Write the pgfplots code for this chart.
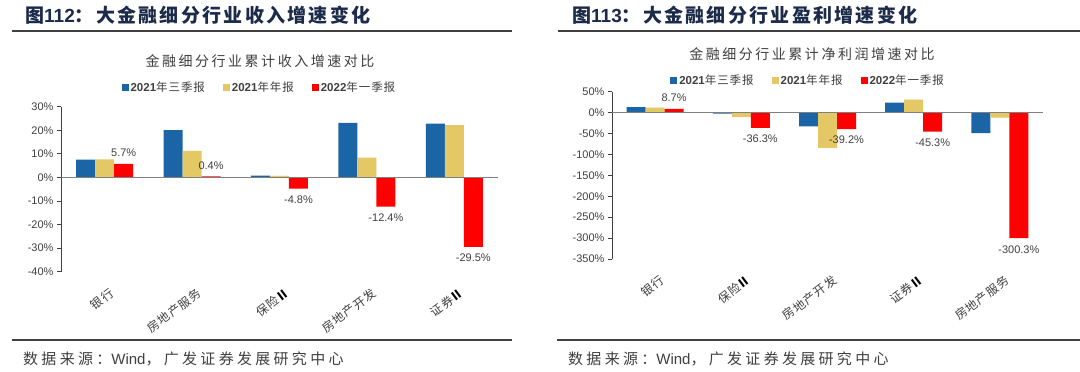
\documentclass[border=0pt]{standalone}
\usepackage{fontspec}
\setmainfont{Liberation Sans}
\newfontfamily\lat{Liberation Sans}
\newfontfamily\cjk{Noto Sans CJK SC}
\newfontfamily\cjkls[LetterSpace=8]{Noto Sans CJK SC}
\newfontfamily\cjksrc[LetterSpace=22]{Noto Sans CJK SC}
\newfontfamily\cjkm[LetterSpace=18]{Noto Sans CJK SC}
\newfontfamily\cjkt[LetterSpace=12]{Noto Sans CJK SC}
\usepackage{pgfplots}
\pgfplotsset{compat=1.18}
\definecolor{cblue}{HTML}{1B65A6}
\definecolor{cyel}{HTML}{E4C866}
\definecolor{cred}{HTML}{FF0000}
\definecolor{navy}{HTML}{1C2B4A}
\definecolor{txt}{HTML}{404040}
\definecolor{rule}{HTML}{404040}

\pgfplotsset{
 fin/.style={
  scale only axis, anchor=north west,
  xmin=-0.5, xmax=4.5, xtick={0,1,2,3,4},
  ybar=0pt, bar width=19pt,
  axis y line*=left, axis x line*=bottom,
  x axis line style={draw=none}, xtick style={draw=none},
  y axis line style={draw=txt,-, line width=0.8pt},
  ytick style={draw=txt, line width=0.8pt},
  tick align=outside, major tick length=4pt,
  /pgf/number format/assume math mode=true,
  yticklabel={\pgfmathprintnumber{\tick}\%},
  yticklabel style={font=\fontsize{11}{11}\selectfont, text=txt},
  xticklabel style={font=\cjkls\fontsize{12}{12}\selectfont, text=txt, rotate=37, anchor=north east, yshift=-8pt},
  legend columns=3,
  legend style={draw=none, fill=none, font=\fontsize{11.5}{11.5}\selectfont, text=txt,
    nodes={inner xsep=2pt},
    /tikz/every even column/.append style={column sep=16pt}},
  legend image code/.code={\fill[##1] (0pt,-3.5pt) rectangle (7pt,3.5pt);},
  clip=false,
 },
 lab/.style={nodes near coords={\pgfmathprintnumber[fixed,fixed zerofill,precision=1]{\pgfplotspointmeta}\%},
   every node near coord/.append style={font=\fontsize{11}{11}\selectfont, text=txt, inner ysep=7pt}},
}
\newcommand{\legtxt}[2]{{\bfseries #1}{\cjkls #2}}
\newcommand{\two}{{\bfseries\color{black}Ⅱ}}

\begin{document}
\begin{tikzpicture}
\useasboundingbox (0,0) rectangle (1080pt,-372pt);
\fill[white] (0,0) rectangle (1080pt,-372pt);

% ---------- titles and rules ----------
\node[anchor=base west, text=navy, inner sep=0] at (25pt,-23pt)
  {\fontsize{19}{19}\selectfont\bfseries{\cjk 图}{\lat 112}{\cjkt ：大金融细分行业收入增速变化}};
\node[anchor=base west, text=navy, inner sep=0] at (572pt,-23pt)
  {\fontsize{19}{19}\selectfont\bfseries{\cjk 图}{\lat 113}{\cjkt ：大金融细分行业盈利增速变化}};
\draw[rule, line width=1.2pt] (12pt,-31pt) -- (512pt,-31pt);
\draw[rule, line width=1.2pt] (558pt,-31pt) -- (1080pt,-31pt);
\draw[rule, line width=1.2pt] (12pt,-340pt) -- (512pt,-340pt);
\draw[rule, line width=1.2pt] (557pt,-340pt) -- (1080pt,-340pt);
\node[anchor=center, text=txt] at (260pt,-61pt) {\cjkm\fontsize{14}{14}\selectfont 金融细分行业累计收入增速对比};
\node[anchor=center, text=txt] at (812pt,-54pt) {\cjkm\fontsize{14}{14}\selectfont 金融细分行业累计净利润增速对比};
\node[anchor=base west, text=txt, inner sep=0] at (23pt,-364pt)
  {\cjksrc\fontsize{15}{15}\selectfont 数据来源：{\lat Wind}，广发证券发展研究中心};
\node[anchor=base west, text=txt, inner sep=0] at (568pt,-364pt)
  {\cjksrc\fontsize{15}{15}\selectfont 数据来源：{\lat Wind}，广发证券发展研究中心};

% ---------- left chart ----------
\begin{axis}[fin,
  at={(61pt,-106.7pt)}, width=437pt, height=165pt,
  ymin=-40, ymax=30, ytick={-40,-30,...,30},
  xticklabels={银行,房地产服务,保险\two,房地产开发,证券\two},
  legend style={at={(0.454,1)}, anchor=center, yshift=19.7pt},
]
\addplot[fill=cblue, draw=none] coordinates {(0,7.5) (1,20.1) (2,0.8) (3,23.1) (4,22.8)};
\addplot[fill=cyel, draw=none] coordinates {(0,7.7) (1,11.3) (2,0.6) (3,8.4) (4,22.2)};
\addplot[fill=cred, draw=none, lab] coordinates {(0,5.7) (1,0.4) (2,-4.8) (3,-12.4) (4,-29.5)};
\legend{\legtxt{2021}{年三季报},\legtxt{2021}{年年报},\legtxt{2022}{年一季报}}
\draw[gray, line width=0.8pt] (axis cs:-0.5,0) -- (axis cs:4.5,0);
\end{axis}

% ---------- right chart ----------
\begin{axis}[fin,
  at={(612pt,-91.7pt)}, width=431pt, height=167.3pt,
  ymin=-350, ymax=50, ytick={-350,-300,...,50},
  xticklabels={银行,保险\two,房地产开发,证券\two,房地产服务},
  legend style={at={(0.455,1)}, anchor=center, yshift=11.7pt},
]
\addplot[fill=cblue, draw=none] coordinates {(0,13.4) (1,-2.4) (2,-32.8) (3,23.9) (4,-48.8)};
\addplot[fill=cyel, draw=none] coordinates {(0,12) (1,-10.5) (2,-84.6) (3,31) (4,-12)};
\addplot[fill=cred, draw=none, lab] coordinates {(0,8.7) (1,-36.3) (2,-39.2) (3,-45.3) (4,-300.3)};
\legend{\legtxt{2021}{年三季报},\legtxt{2021}{年年报},\legtxt{2022}{年一季报}}
\draw[gray, line width=0.8pt] (axis cs:-0.5,0) -- (axis cs:4.5,0);
\end{axis}
\end{tikzpicture}
\end{document}
